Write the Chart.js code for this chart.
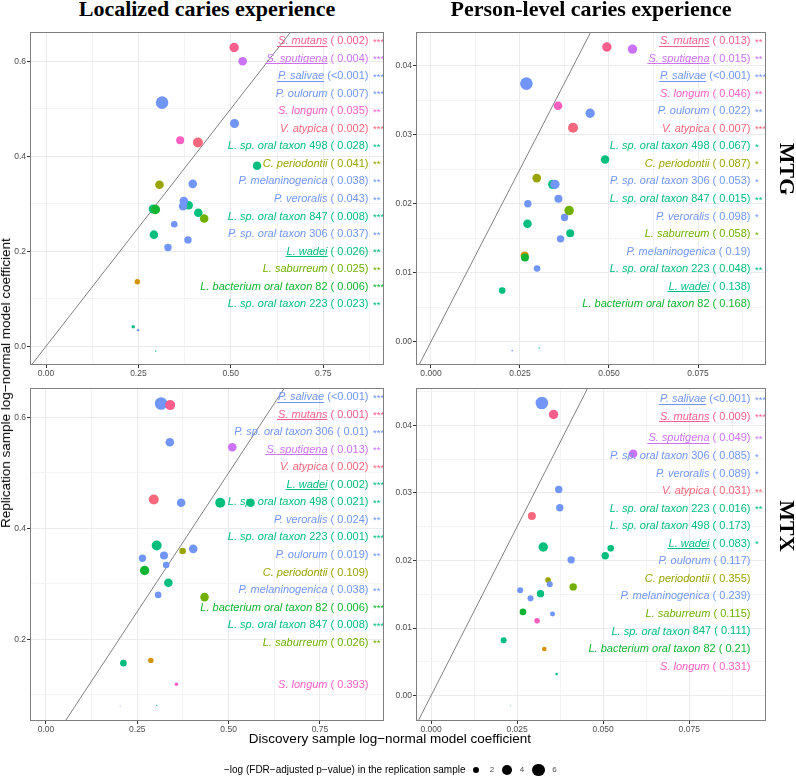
<!DOCTYPE html>
<html><head><meta charset="utf-8">
<script src="https://cdn.jsdelivr.net/npm/chart.js@4.4.0/dist/chart.umd.min.js"></script>
<style>
html,body{margin:0;padding:0;background:#fff;}
#root{position:relative;width:796px;height:777px;overflow:hidden;background:#fff;font-family:"Liberation Sans",Arial,sans-serif;}
canvas{position:absolute;}
.t{position:absolute;white-space:nowrap;line-height:1;}
</style></head><body><div id="root"></div>
<script>
// ---------------- DATA ----------------
// MTG, localized caries experience
const mtgLocalX = [0.247, 0.571,0.386,0.412,0.292,0.290,0.236,0.297, 0.307, 0.428, 0.296,
  0.314,0.510,0.397,0.373,0.371,0.347,0.384,0.330,0.249, 0.411, 0.363, 0.532, 0.509];
const mtgLocalY = [0.136, 0.380,0.297,0.281,0.235,0.289,0.041,-0.010, 0.340, 0.269, 0.288,
  0.513,0.469,0.342,0.306,0.295,0.257,0.224,0.208,0.034, 0.429, 0.434, 0.600, 0.629];
const mtgLocalSize = [1.46, 3.09,3.09,3.09,3.09,3.34,0.74,0.27, 3.09, 3.09, 3.6,
  6.0,3.34,3.09,3.09,3.09,2.0,2.41,2.41,0.48, 4.0, 2.74, 3.09, 3.6];
const mtgLocalGroup = ['other','lepto','lepto','lepto','lepto','lepto','lepto','lepto','centipeda','saburreum','lachno',
  'prevotella','prevotella','prevotella','prevotella','prevotella','prevotella','prevotella','prevotella','prevotella','atypica','longum','sputigena','mutans'];
const mtgLocalTaxa = ['S. mutans','S. sputigena','P. salivae','P. oulorum','S. longum','V. atypica','L. sp. oral taxon 498','C. periodontii',
  'P. melaninogenica','P. veroralis','L. sp. oral taxon 847','P. sp. oral taxon 306','L. wadei','L. saburreum','L. bacterium oral taxon 82','L. sp. oral taxon 223'];
const mtgLocalP = ['0.002','0.004','<0.001','0.007','0.035','0.002','0.028','0.041','0.038','0.043','0.008','0.037','0.026','0.025','0.006','0.023'];
const mtgLocalStars = ['***','***','***','***','**','***','**','**','**','**','***','**','**','**','***','**'];

// MTG, person-level caries experience
const mtgPersonX = [0.0263, 0.0489,0.0342,0.0271,0.0391,0.0200,0.0304, 0.0297, 0.0388, 0.0264,
  0.0268,0.0447,0.0348,0.0358,0.0272,0.0375,0.0364,0.0298,0.0228, 0.0399, 0.0357, 0.0566, 0.0494];
const mtgPersonY = [0.0125, 0.0264,0.0228,0.0171,0.0157,0.0074,-0.0009, 0.0237, 0.0190, 0.0122,
  0.0374,0.0331,0.0228,0.0207,0.0200,0.0180,0.0149,0.0106,-0.0013, 0.0310, 0.0342, 0.0424, 0.0427];
const mtgPersonSize = [2.74, 3.09,3.6,3.09,2.74,2.0,0.27, 3.09, 3.6, 2.74,
  6.0,3.6,3.6,2.74,2.41,2.41,2.41,2.0,0.30, 4.0, 3.09, 3.6, 3.6];
const mtgPersonGroup = ['other','lepto','lepto','lepto','lepto','lepto','lepto','centipeda','saburreum','lachno',
  'prevotella','prevotella','prevotella','prevotella','prevotella','prevotella','prevotella','prevotella','prevotella','atypica','longum','sputigena','mutans'];
const mtgPersonTaxa = ['S. mutans','S. sputigena','P. salivae','S. longum','P. oulorum','V. atypica','L. sp. oral taxon 498','C. periodontii',
  'P. sp. oral taxon 306','L. sp. oral taxon 847','P. veroralis','L. saburreum','P. melaninogenica','L. sp. oral taxon 223','L. wadei','L. bacterium oral taxon 82'];
const mtgPersonP = ['0.013','0.015','<0.001','0.046','0.022','0.007','0.067','0.087','0.053','0.015','0.098','0.058','0.19','0.048','0.138','0.168'];
const mtgPersonStars = ['**','**','***','**','**','***','*','*','*','**','*','*','','**','',''];

// MTX, localized caries experience
const mtxLocalX = [0.287, 0.477,0.560,0.303,0.335,0.212,0.303, 0.374, 0.434, 0.270,
  0.315,0.339,0.370,0.403,0.264,0.323,0.329,0.307,0.203, 0.295, 0.357, 0.510, 0.340];
const mtxLocalY = [0.162, 0.446,0.446,0.369,0.302,0.157,0.081, 0.359, 0.276, 0.324,
  0.625,0.555,0.446,0.363,0.346,0.351,0.334,0.280,0.080, 0.452, 0.119, 0.546, 0.622];
const mtxLocalSize = [1.46, 4.0,3.09,4.0,3.09,2.0,0.27, 2.0, 3.09, 3.6,
  6.0,3.09,3.09,3.09,2.41,2.74,2.0,2.0,0.20, 4.0, 0.80, 3.09, 4.0];
const mtxLocalGroup = ['other','lepto','lepto','lepto','lepto','lepto','lepto','centipeda','saburreum','lachno',
  'prevotella','prevotella','prevotella','prevotella','prevotella','prevotella','prevotella','prevotella','prevotella','atypica','longum','sputigena','mutans'];
const mtxLocalTaxa = ['P. salivae','S. mutans','P. sp. oral taxon 306','S. sputigena','V. atypica','L. wadei','L. sp. oral taxon 498','P. veroralis',
  'L. sp. oral taxon 223','P. oulorum','C. periodontii','P. melaninogenica','L. bacterium oral taxon 82','L. sp. oral taxon 847','L. saburreum','S. longum'];
const mtxLocalP = ['<0.001','0.001','0.01','0.013','0.002','0.002','0.021','0.024','0.001','0.019','0.109','0.038','0.006','0.008','0.026','0.393'];
const mtxLocalStars = ['***','***','***','**','***','***','**','**','***','**','','**','***','***','**',''];

// MTX, person-level caries experience
const mtxPersonX = [0.0329, 0.0326,0.0522,0.0506,0.0318,0.0211,0.0365, 0.0340, 0.0413, 0.0267,
  0.0322,0.0371,0.0374,0.0407,0.0345,0.0259,0.0289,0.0353,0.0231, 0.0293, 0.0308, 0.0587, 0.0356];
const mtxPersonY = [0.0069, 0.0220,0.0218,0.0207,0.0151,0.0082,0.0032, 0.0171, 0.0161, 0.0124,
  0.0433,0.0305,0.0278,0.0201,0.0165,0.0156,0.0144,0.0121,-0.0015, 0.0266, 0.0111, 0.0358, 0.0416];
const mtxPersonSize = [1.14, 3.6,2.0,2.41,2.41,1.72,0.52, 1.54, 2.41, 2.0,
  6.0,2.41,2.41,2.41,1.72,1.72,1.72,1.29,0.20, 2.74, 1.54, 3.09, 3.6];
const mtxPersonGroup = ['other','lepto','lepto','lepto','lepto','lepto','lepto','centipeda','saburreum','lachno',
  'prevotella','prevotella','prevotella','prevotella','prevotella','prevotella','prevotella','prevotella','prevotella','atypica','longum','sputigena','mutans'];
const mtxPersonTaxa = ['P. salivae','S. mutans','S. sputigena','P. sp. oral taxon 306','P. veroralis','V. atypica','L. sp. oral taxon 223','L. sp. oral taxon 498',
  'L. wadei','P. oulorum','C. periodontii','P. melaninogenica','L. saburreum','L. sp. oral taxon 847','L. bacterium oral taxon 82','S. longum'];
const mtxPersonP = ['<0.001','0.009','0.049','0.085','0.089','0.031','0.016','0.173','0.083','0.117','0.355','0.239','0.115','0.111','0.21','0.331'];
const mtxPersonStars = ['***','***','**','*','*','**','**','','*','','','','','','',''];

// axis ticks and limits
const localizedXTicks = [0, 0.25, 0.5, 0.75];
const localizedXTickLabels = ['0.00','0.25','0.50','0.75'];
const localizedYTicks = [0, 0.2, 0.4, 0.6];
const localizedYTickLabels = ['0.0','0.2','0.4','0.6'];
const personXTicks = [0, 0.025, 0.05, 0.075];
const personXTickLabels = ['0.000','0.025','0.050','0.075'];
const personYTicks = [0, 0.01, 0.02, 0.03, 0.04];
const personYTickLabels = ['0.00','0.01','0.02','0.03','0.04'];
const mtgLocalXRange = [-0.0433, 0.9145], mtgLocalYRange = [-0.0394, 0.6617];
const mtgPersonXRange = [-0.00421, 0.0941], mtgPersonYRange = [-0.00338, 0.04488];
const mtxLocalXRange = [-0.0438, 0.9253], mtxLocalYRange = [0.0528, 0.6528];
const mtxPersonXRange = [-0.00436, 0.0973], mtxPersonYRange = [-0.00374, 0.04552];
const identityLine = [-1, 1];
const legendValues = [2, 4, 6];
const underlinedTaxa = ['S. mutans','S. sputigena','P. salivae','L. wadei'];

// ---------------- STYLE ----------------
const groupColor = {
  other:'#D39200', lepto:'#00BE7C', centipeda:'#9AA400', saburreum:'#6FB000', lachno:'#12B432',
  prevotella:'#7196F7', atypica:'#F8687C', longum:'#FC5EC2', sputigena:'#CB72F6', mutans:'#FA5E8D'
};
const drawOrder = ['other','lepto','centipeda','saburreum','lachno','prevotella','atypica','longum','sputigena','mutans'];
function taxonGroup(t){
  if (t==='S. mutans') return 'mutans';
  if (t==='S. sputigena') return 'sputigena';
  if (t==='S. longum') return 'longum';
  if (t==='V. atypica') return 'atypica';
  if (t==='C. periodontii') return 'centipeda';
  if (t==='L. saburreum') return 'saburreum';
  if (t.startsWith('L. bacterium')) return 'lachno';
  if (t.startsWith('P.')) return 'prevotella';
  return 'lepto';
}
const sizeToRadius = v => Math.max(0.5, 2.9*Math.sqrt(v) - 0.8);
const FONT = '"Liberation Sans", Arial, sans-serif';
const PAD = 10;

const root = document.getElementById('root');
function addText(txt, css){ const d=document.createElement('div'); d.className='t'; d.textContent=txt; Object.assign(d.style, css); root.appendChild(d); return d; }

function tickList(majors, range){
  const step = majors[1]-majors[0];
  const out = [];
  for (let k=-3;k<majors.length+3;k++){
    const m = +(majors[0]+k*step).toFixed(10);
    const h = +(m+step/2).toFixed(10);
    if (m>=range[0] && m<=range[1]) out.push(m);
    if (h>=range[0] && h<=range[1]) out.push(h);
  }
  return out.sort((a,b)=>a-b);
}
const isMaj = (majors,v) => majors.some(m=>Math.abs(m-v)<1e-9);

function makePanel(p){
  const a = p.area;
  const left = a.l - p.yW, top = a.t - PAD;
  const W = a.r - left + PAD, H = a.b - top + p.xH;
  const cv = document.createElement('canvas');
  cv.width = W; cv.height = H; cv.style.left = left+'px'; cv.style.top = top+'px';
  cv.style.width = W+'px'; cv.style.height = H+'px';
  root.appendChild(cv);

  const datasets = [{
    type:'line', data: identityLine.map(v=>({x:v,y:v})), borderColor:'#808080', borderWidth:1,
    pointRadius:0, fill:false, order:100
  }];
  drawOrder.forEach((g,i)=>{
    const pts = [];
    p.group.forEach((gg,j)=>{ if (gg===g) pts.push({x:p.x[j], y:p.y[j], r:sizeToRadius(p.size[j])}); });
    datasets.push({type:'bubble', data:pts, backgroundColor:groupColor[g], borderWidth:0, order: drawOrder.length - i});
  });

  const labelPlugin = {
    id:'lab'+p.id,
    afterDatasetsDraw(chart){
      const ctx = chart.ctx, ca = chart.chartArea;
      ctx.save();
      const anchor = ca.right - 15.5;
      p.taxa.forEach((t,i)=>{
        const y = ca.top + 9 + i*17.55 + (p.rowExtra[i]||0);
        const col = groupColor[taxonGroup(t)];
        const m = t.match(/^(.*?)\s(\d+)$/);
        const ital = m ? m[1] : t;
        const pv = p.p[i];
        const upr = (m ? ' '+m[2] : '') + ' (' + (pv.startsWith('<') ? '' : ' ') + pv + ')';
        ctx.textBaseline = 'middle'; ctx.textAlign = 'left'; ctx.fillStyle = col;
        ctx.font = '11px '+FONT; const uw = ctx.measureText(upr).width;
        ctx.font = 'italic 11px '+FONT; const iw = ctx.measureText(ital).width;
        const x0 = anchor - uw - iw;
        ctx.fillText(ital, x0, y);
        ctx.font = '11px '+FONT; ctx.fillText(upr, x0+iw, y);
        if (underlinedTaxa.includes(t)){
          ctx.strokeStyle = col; ctx.lineWidth = 1; ctx.beginPath();
          ctx.moveTo(x0-1, Math.round(y+4.5)+0.5); ctx.lineTo(x0+iw, Math.round(y+4.5)+0.5); ctx.stroke();
        }
        if (p.stars[i]){ ctx.font = '9.5px '+FONT; ctx.fillText(p.stars[i], anchor+4.5, y+1); }
      });
      ctx.restore();
    },
    afterDraw(chart){
      const ctx = chart.ctx, ca = chart.chartArea;
      ctx.save(); ctx.strokeStyle = '#7f7f7f'; ctx.lineWidth = 1;
      ctx.strokeRect(Math.round(ca.left)+0.5, Math.round(ca.top)+0.5, Math.round(ca.right-ca.left)-1, Math.round(ca.bottom-ca.top)-1);
      ctx.restore();
    }
  };

  const axis = (majors, labels, range, isX) => ({
    type:'linear', min:range[0], max:range[1],
    afterBuildTicks(scale){ scale.ticks = tickList(majors, range).map(v=>({value:v})); },
    afterFit(scale){ if (isX) scale.height = p.xH; else scale.width = p.yW; },
    border:{display:false},
    grid:{
      color: c => isMaj(majors, c.tick.value) ? '#EBEBEB' : '#F4F4F4',
      tickColor: c => isMaj(majors, c.tick.value) ? '#333333' : 'rgba(0,0,0,0)',
      tickLength:3, lineWidth:1
    },
    ticks:{
      autoSkip:false, maxRotation:0, minRotation:0, padding:1, color:'#4D4D4D',
      font:{family:FONT, size:8.5},
      callback: v => { const k = majors.findIndex(m=>Math.abs(m-v)<1e-9); return k>=0 ? labels[k] : ''; }
    }
  });

  new Chart(cv.getContext('2d'), {
    type:'bubble',
    data:{datasets},
    options:{
      responsive:false, animation:false, events:[], devicePixelRatio:1,
      layout:{padding:{top:PAD, right:PAD, left:0, bottom:0}},
      plugins:{legend:{display:false}, tooltip:{enabled:false}},
      scales:{ x: axis(p.xt, p.xtl, p.xr, true), y: axis(p.yt, p.ytl, p.yr, false) }
    },
    plugins:[labelPlugin]
  });
}

const brExtra = [2.1,2.1,6.3,6.3,6.3,6.3,6.3,6.3,6.3,6.3,6.3,6.3,6.3,6.3,6.3,6.3];
makePanel({id:'tl', x:mtgLocalX, y:mtgLocalY, size:mtgLocalSize, group:mtgLocalGroup, xr:mtgLocalXRange, yr:mtgLocalYRange,
  xt:localizedXTicks, xtl:localizedXTickLabels, yt:localizedYTicks, ytl:localizedYTickLabels,
  taxa:mtgLocalTaxa, p:mtgLocalP, stars:mtgLocalStars, rowExtra:[], area:{l:30,t:32,r:384,b:365}, yW:30, xH:16});
makePanel({id:'tr', x:mtgPersonX, y:mtgPersonY, size:mtgPersonSize, group:mtgPersonGroup, xr:mtgPersonXRange, yr:mtgPersonYRange,
  xt:personXTicks, xtl:personXTickLabels, yt:personYTicks, ytl:personYTickLabels,
  taxa:mtgPersonTaxa, p:mtgPersonP, stars:mtgPersonStars, rowExtra:[], area:{l:416,t:32,r:766,b:365}, yW:28, xH:16});
makePanel({id:'bl', x:mtxLocalX, y:mtxLocalY, size:mtxLocalSize, group:mtxLocalGroup, xr:mtxLocalXRange, yr:mtxLocalYRange,
  xt:localizedXTicks, xtl:localizedXTickLabels, yt:localizedYTicks, ytl:localizedYTickLabels,
  taxa:mtxLocalTaxa, p:mtxLocalP, stars:mtxLocalStars, rowExtra:{15:24.35}, area:{l:30,t:388,r:384,b:721}, yW:30, xH:16});
makePanel({id:'br', x:mtxPersonX, y:mtxPersonY, size:mtxPersonSize, group:mtxPersonGroup, xr:mtxPersonXRange, yr:mtxPersonYRange,
  xt:personXTicks, xtl:personXTickLabels, yt:personYTicks, ytl:personYTickLabels,
  taxa:mtxPersonTaxa, p:mtxPersonP, stars:mtxPersonStars, rowExtra:brExtra, area:{l:416,t:388,r:766,b:721}, yW:28, xH:16});

// titles and strips
const serif = '"Liberation Serif","Times New Roman",serif';
addText('Localized caries experience', {left:'207px', top:'-2px', transform:'translateX(-50%)', font:'bold 22px '+serif, lineHeight:'22px', color:'#000'});
addText('Person-level caries experience', {left:'591px', top:'-2px', transform:'translateX(-50%)', font:'bold 22px '+serif, lineHeight:'22px', color:'#000'});
addText('MTG', {left:'787px', top:'169px', transform:'translate(-50%,-50%) rotate(90deg)', font:'bold 22px '+serif, lineHeight:'22px', color:'#000'});
addText('MTX', {left:'787px', top:'526px', transform:'translate(-50%,-50%) rotate(90deg)', font:'bold 22px '+serif, lineHeight:'22px', color:'#000'});
// axis titles
addText('Replication sample log\u2212normal model coefficient', {left:'6px', top:'383px', transform:'translate(-50%,-50%) rotate(-90deg)', font:'13.5px '+FONT, lineHeight:'14px', color:'#000'});
addText('Discovery sample log\u2212normal model coefficient', {left:'390px', top:'739px', transform:'translate(-50%,-50%)', font:'13.5px '+FONT, lineHeight:'14px', color:'#000'});
// size legend
addText('\u2212log (FDR\u2212adjusted p\u2212value) in the replication sample', {left:'224px', top:'770px', transform:'translateY(-50%)', font:'10px '+FONT, lineHeight:'10px', color:'#000'});
const legendCx = [476, 507, 538.7], legendTx = [492, 522, 554.5];
legendValues.forEach((v,i)=>{
  const r = sizeToRadius(v);
  const d = document.createElement('div');
  Object.assign(d.style, {position:'absolute', left:(legendCx[i]-r)+'px', top:(770-r)+'px', width:(2*r)+'px', height:(2*r)+'px', borderRadius:'50%', background:'#000'});
  root.appendChild(d);
  addText(String(v), {left:legendTx[i]+'px', top:'770px', transform:'translate(-50%,-50%)', font:'8px '+FONT, lineHeight:'8px', color:'#4D4D4D'});
});
</script></body></html>
